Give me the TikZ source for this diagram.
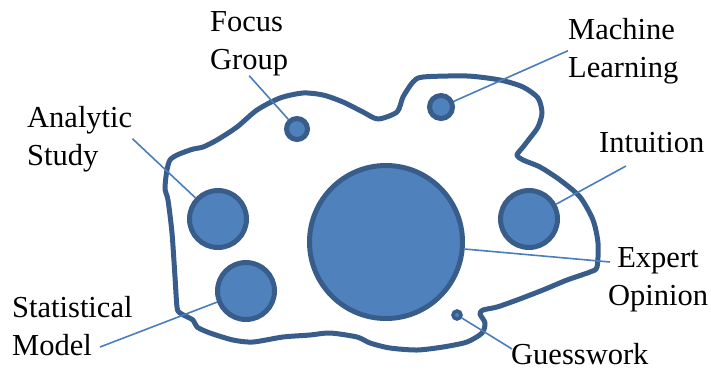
\documentclass[tikz,border=0pt]{standalone}
\usepackage{fontspec}
\setmainfont{Liberation Serif}
\usetikzlibrary{positioning}
\definecolor{blobfill}{RGB}{79,129,189}
\definecolor{blobline}{RGB}{56,93,138}
\definecolor{leader}{RGB}{74,126,187}
\tikzset{
  method/.style={circle, draw=blobline, fill=blobfill, line width=5pt, inner sep=0pt},
  tag/.style={inner sep=0pt, font=\fontsize{30.5}{38}\selectfont, align=left},
  leadline/.style={draw=leader, line width=1.6pt}
}
\begin{document}
\begin{tikzpicture}[x=1pt, y=-1pt]
        \useasboundingbox (0,0) rectangle (711,370);
        % Outline of the whole space
        \draw[blobline, line width=5pt, line join=round] plot[smooth cycle, tension=0.45] coordinates {
          (165,187) (170,160) (190,150) (203,147) (217,140) (237,127) (257,110) (280,98)
          (303,93) (323,95) (343,102) (363,112) (378,119) (397,112) (403,97) (413,82)
          (423,77) (467,76) (500,80) (523,87) (538,98) (542,113) (538,127) (530,138)
          (523,147) (517,155) (523,160) (540,167) (560,180) (580,197) (593,220) (598,243)
          (597,267) (590,272) (567,280) (543,290) (517,300) (497,307) (483,310) (480,314)
          (485,323) (482,333) (467,342) (443,347) (417,350) (390,348) (370,343) (357,337)
          (330,333) (310,335) (283,337) (253,342) (233,340) (210,333) (197,327) (193,320)
          (180,313) (177,307) (175,277) (172,233) (168,200)};

        % Methods as circles
        \node[method, minimum size=153pt] (expertc) at (386,242) {};
        \node[method, minimum size=21pt] (focusc) at (297,129) {};
        \node[method, minimum size=23pt] (machinec) at (441,107) {};
        \node[method, minimum size=57pt] (analyticc) at (218,219) {};
        \node[method, minimum size=57pt] (statc) at (246,291) {};
        \node[method, minimum size=57pt] (intuitionc) at (529,219) {};
        \node[method, minimum size=8pt, line width=3.5pt] (guessc) at (457,315) {};

        % Labels (base = last line)
        \node[tag, anchor=base west] (focus) at (210,69) {Focus\\Group};
        \node[tag, anchor=base west] (analytic) at (27,165) {Analytic\\Study};
        \node[tag, anchor=base west] (machine) at (568,77) {Machine\\Learning};
        \node[tag, anchor=base west] (intuition) at (599,152) {Intuition};
        \node[tag, anchor=base, align=center] (expert) at (658,305) {Expert\\Opinion};
        \node[tag, anchor=base west] (stat) at (12,355) {Statistical\\Model};
        \node[tag, anchor=base west] (guess) at (511,364) {Guesswork};

        % Free ends of the leader lines
        \coordinate (intuitionend) at (626,166);
        \coordinate (expertend) at (610,262);
        \coordinate (statend) at (100,347);
        \coordinate (guessend) at (512,349);

        \draw[leadline] (focus.south) -- (focusc);
        \draw[leadline] (analytic.east) -- (analyticc);
        \draw[leadline] (machine.west) -- (machinec);
        \draw[leadline] (intuitionend) -- (intuitionc);
        \draw[leadline] (expertend) -- (expertc);
        \draw[leadline] (statend) -- (statc);
        \draw[leadline] (guessend) -- (guessc);
\end{tikzpicture}
\end{document}
